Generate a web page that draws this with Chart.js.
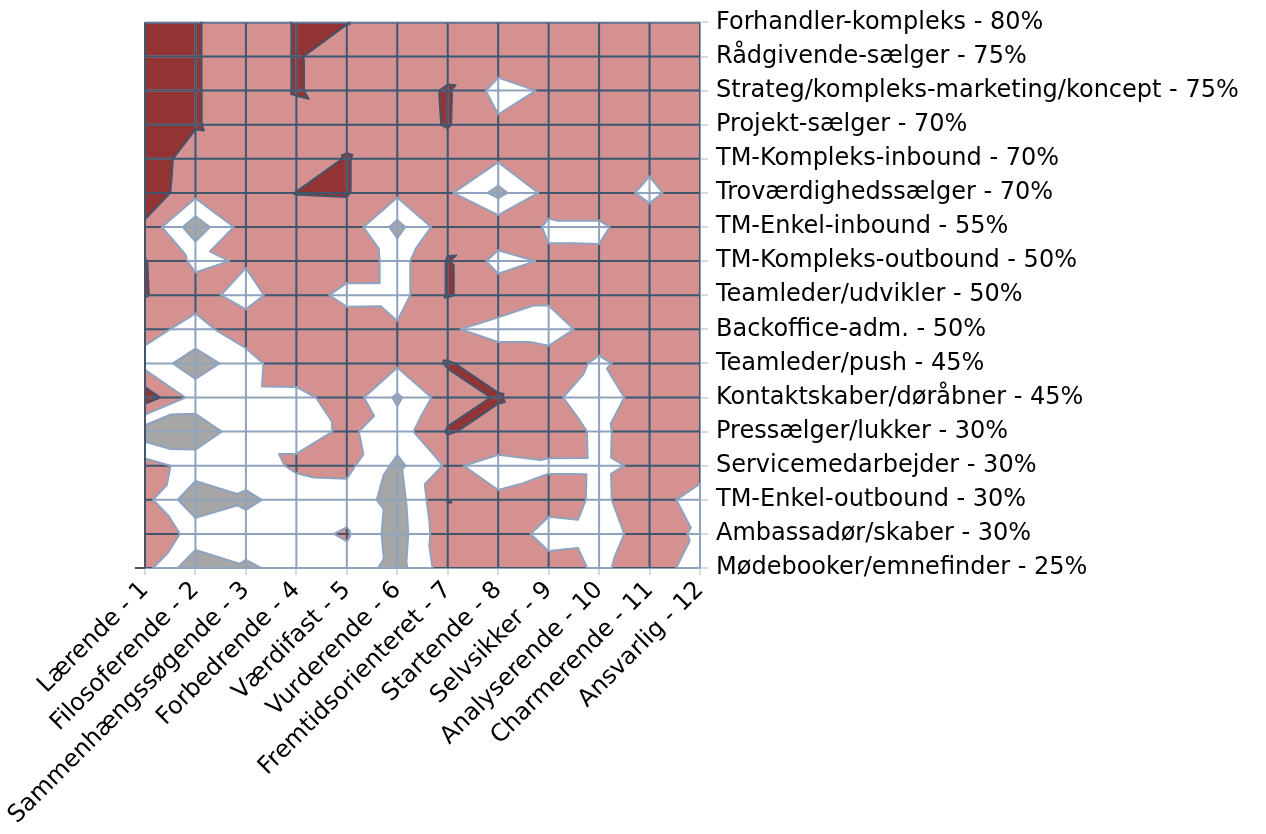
<!DOCTYPE html>
<html>
<head>
<meta charset="utf-8">
<script src="https://cdn.jsdelivr.net/npm/chart.js@4.4.1/dist/chart.umd.min.js"></script>
<style>
html,body{margin:0;padding:0;background:#ffffff;}
canvas{display:block;}
</style>
</head>
<body>
<canvas id="c" width="1266" height="834"></canvas>
<script>
// ---- data ----
const xLabels = ["Lærende - 1","Filosoferende - 2","Sammenhængssøgende - 3","Forbedrende - 4","Værdifast - 5","Vurderende - 6","Fremtidsorienteret - 7","Startende - 8","Selvsikker - 9","Analyserende - 10","Charmerende - 11","Ansvarlig - 12"];
const yLabels = ["Forhandler-kompleks - 80%","Rådgivende-sælger - 75%","Strateg/kompleks-marketing/koncept - 75%","Projekt-sælger - 70%","TM-Kompleks-inbound - 70%","Troværdighedssælger - 70%","TM-Enkel-inbound - 55%","TM-Kompleks-outbound - 50%","Teamleder/udvikler - 50%","Backoffice-adm. - 50%","Teamleder/push - 45%","Kontaktskaber/døråbner - 45%","Pressælger/lukker - 30%","Servicemedarbejder - 30%","TM-Enkel-outbound - 30%","Ambassadør/skaber - 30%","Mødebooker/emnefinder - 25%"];
// one row per y label (top to bottom), one value per x label
const zRows = [
  [3.8, 3.1, 2.27, 3.08, 3.03, 2.4, 2.5, 2.5, 2.5, 2.5, 2.5, 2.5],
  [3.8, 3.1, 2.27, 3.08, 2.51, 2.5, 2.63, 2.57, 2.5, 2.5, 2.5, 2.5],
  [3.8, 3.1, 2.27, 3.08, 2.55, 2.6, 3.08, 1.65, 2.12, 2.5, 2.5, 2.5],
  [3.8, 3.1, 2.3, 2.55, 2.75, 2.6, 3.06, 2.15, 2.5, 2.5, 2.5, 2.5],
  [3.75, 2.39, 2.5, 2.5, 3.05, 2.4, 2.5, 2.14, 2.5, 2.5, 2.21, 2.5],
  [3.7, 2.3, 2.5, 3.02, 3.05, 2.2, 2.16, 0.7, 2.33, 2.5, 1.8, 2.57],
  [2.8, 0.4, 2.5, 2.5, 2.64, 0.69, 2.64, 2.7, 1.89, 1.88, 2.45, 2.5],
  [3.03, 1.8, 2.1, 2.5, 2.69, 1.63, 3.06, 1.67, 2.12, 2.12, 2.5, 2.5],
  [3.05, 2.4, 1.6, 2.72, 1.61, 1.63, 3.06, 2.56, 2.13, 2.5, 2.5, 2.5],
  [2.34, 1.65, 2.56, 2.5, 2.76, 2.12, 2.1, 1.7, 1.7, 2.3, 2.5, 2.5],
  [1.62, 0.5, 1.55, 2.85, 2.6, 2.16, 3.08, 2.51, 2.32, 1.91, 2.27, 2.5],
  [3.6, 1.6, 1.6, 1.62, 2.6, 0.83, 2.55, 3.08, 2.2, 1.5, 2.5, 2.5],
  [0.4, 0.35, 1.6, 1.6, 2.16, 1.49, 3.08, 2.64, 2.475, 1.85, 2.45, 2.5],
  [2.43, 1.58, 1.3, 2.21, 2.25, 0.78, 2.14, 1.7, 1.87, 1.86, 2.14, 2.45],
  [2.32, 0.29, 0.88, 1.26, 1.6, 0.59, 3.02, 2.12, 2.42, 1.85, 2.45, 1.6],
  [2.82, 1.63, 1.29, 1.7, 2.1, 0.5, 2.8, 2.75, 1.58, 1.7, 2.3, 1.9],
  [2.32, 0.29, 0.91, 1.21, 1.65, 0.6, 2.6, 2.5, 2.42, 1.87, 2.39, 1.65]
];
const levels = [1, 2, 3];
const bandColors = ['#a6a6a6', '#ffffff', '#d59190', '#913433'];
const lightLine = '#8fa3bf';
const darkLine = '#44546a';

// ---- contour drawing through the chart scales ----
const contourPlugin = {
  id: 'contour',
  beforeDatasetsDraw(chart) {
    const ctx = chart.ctx, ca = chart.chartArea;
    const xs = chart.scales.x, ys = chart.scales.y;
    const px = v => xs.getPixelForValue(v);
    const py = v => ys.getPixelForValue(v);
    const nR = zRows.length, nC = xLabels.length;
    const tris = [];
    for (let j = 0; j < nR - 1; j++) {
      for (let i = 0; i < nC - 1; i++) {
        const TL = [i + 1, j, zRows[j][i]];
        const TR = [i + 2, j, zRows[j][i + 1]];
        const BR = [i + 2, j + 1, zRows[j + 1][i + 1]];
        const BL = [i + 1, j + 1, zRows[j + 1][i]];
        const c = [TL, TR, BR, BL];
        let m = 0;
        for (let k = 1; k < 4; k++) if (c[k][2] < c[m][2]) m = k;
        if (m === 0 || m === 2) { tris.push([TL, TR, BL], [TR, BR, BL]); }
        else { tris.push([TL, TR, BR], [TL, BR, BL]); }
      }
    }
    const clip = (poly, L) => {
      const out = [];
      for (let k = 0; k < poly.length; k++) {
        const a = poly[k], b = poly[(k + 1) % poly.length];
        const ina = a[2] >= L, inb = b[2] >= L;
        if (ina) out.push(a);
        if (ina !== inb) {
          const t = (L - a[2]) / (b[2] - a[2]);
          out.push([a[0] + t * (b[0] - a[0]), a[1] + t * (b[1] - a[1]), L]);
        }
      }
      return out;
    };
    ctx.save();
    ctx.fillStyle = bandColors[0];
    ctx.fillRect(ca.left, ca.top, ca.width, ca.height);
    const levelPaths = levels.map(L => {
      const p = new Path2D();
      for (const tri of tris) {
        const q = clip(tri, L);
        if (q.length >= 3) {
          p.moveTo(px(q[0][0]), py(q[0][1]));
          for (let k = 1; k < q.length; k++) p.lineTo(px(q[k][0]), py(q[k][1]));
          p.closePath();
        }
      }
      return p;
    });
    levelPaths.forEach((p, k) => { ctx.fillStyle = bandColors[k + 1]; ctx.fill(p); });

    // grid lines, coloured by band
    const g = new Path2D();
    for (let i = 1; i <= nC; i++) { g.moveTo(px(i), ca.top); g.lineTo(px(i), ca.bottom); }
    for (let j = 0; j < nR; j++) { g.moveTo(ca.left, py(j)); g.lineTo(ca.right, py(j)); }
    ctx.lineWidth = 2;
    ctx.strokeStyle = lightLine;
    ctx.stroke(g);
    ctx.save();
    ctx.clip(levelPaths[1]);
    ctx.strokeStyle = darkLine;
    ctx.stroke(g);
    ctx.restore();

    // contour lines
    levels.forEach((L, k) => {
      const p = new Path2D();
      for (const tri of tris) {
        const pts = [];
        for (let e = 0; e < 3; e++) {
          const a = tri[e], b = tri[(e + 1) % 3];
          if ((a[2] >= L) !== (b[2] >= L)) {
            const t = (L - a[2]) / (b[2] - a[2]);
            pts.push([a[0] + t * (b[0] - a[0]), a[1] + t * (b[1] - a[1])]);
          }
        }
        if (pts.length === 2) {
          p.moveTo(px(pts[0][0]), py(pts[0][1]));
          p.lineTo(px(pts[1][0]), py(pts[1][1]));
        }
      }
      ctx.strokeStyle = k === 2 ? darkLine : lightLine;
      ctx.lineWidth = 2;
      ctx.lineCap = 'round';
      ctx.stroke(p);
    });

    // left axis line with bottom tick
    ctx.beginPath();
    ctx.strokeStyle = darkLine;
    ctx.lineWidth = 2;
    ctx.lineCap = 'butt';
    ctx.moveTo(ca.left, ca.top);
    ctx.lineTo(ca.left, ca.bottom);
    ctx.moveTo(ca.left - 10, ca.bottom);
    ctx.lineTo(ca.left, ca.bottom);
    ctx.stroke();
    ctx.restore();
  }
};

const points = [];
zRows.forEach((row, j) => row.forEach((v, i) => points.push({ x: i + 1, y: j, z: v })));

const font = { family: 'DejaVu Sans', size: 24 };
new Chart(document.getElementById('c'), {
  type: 'scatter',
  data: { datasets: [{ data: points, pointRadius: 0, pointHoverRadius: 0, showLine: false }] },
  options: {
    responsive: false,
    animation: false,
    devicePixelRatio: 1,
    layout: { padding: { left: 145, top: 17, right: 0, bottom: 0 } },
    plugins: { legend: { display: false }, tooltip: { enabled: false } },
    scales: {
      x: {
        type: 'linear', min: 1, max: 12, position: 'bottom',
        afterBuildTicks: s => { s.ticks = xLabels.map((_, i) => ({ value: i + 1 })); },
        afterFit: s => { s.height = 266; },
        grid: { drawOnChartArea: false, drawTicks: true, tickLength: 7, color: '#d9d9d9', lineWidth: 2 },
        border: { display: false },
        ticks: { autoSkip: false, maxRotation: 45, minRotation: 45, padding: 1, color: '#000000', font: font,
                 callback: v => xLabels[v - 1] }
      },
      y: {
        type: 'linear', min: 0, max: 16, reverse: true, position: 'right',
        afterBuildTicks: s => { s.ticks = yLabels.map((_, i) => ({ value: i })); },
        afterFit: s => { s.width = 566; },
        grid: { drawOnChartArea: false, drawTicks: true, tickLength: 8, color: '#d9d9d9', lineWidth: 2 },
        border: { display: false },
        ticks: { autoSkip: false, padding: 8, color: '#000000', font: font,
                 callback: v => yLabels[v] }
      }
    }
  },
  plugins: [contourPlugin]
});
</script>
</body>
</html>
